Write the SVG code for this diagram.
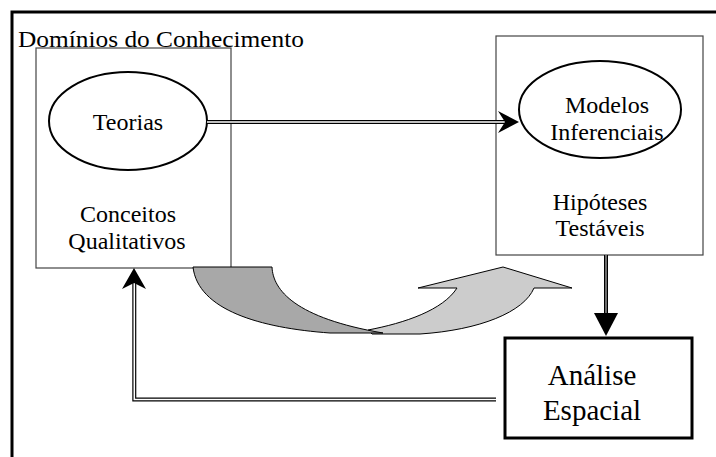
<svg xmlns="http://www.w3.org/2000/svg" width="716" height="457" viewBox="0 0 716 457">
<style>
  text { font-family: "Liberation Serif", "Times New Roman", serif; fill: #000; }
  .lbl { font-size: 24px; text-anchor: middle; }
  .big { font-size: 29px; text-anchor: middle; }
  .box { fill: #fff; stroke: #444; stroke-width: 1.2; }
  .ell { fill: #fff; stroke: #000; stroke-width: 2; }
  .dblo { fill: none; stroke: #000; stroke-width: 4; }
  .dbli { fill: none; stroke: #fff; stroke-width: 1.6; }
  .head { fill: #000; stroke: none; }
</style>
<rect width="716" height="457" fill="#fff"/>
<!-- outer frame -->
<path d="M 12,462 L 12,12 L 720,12" fill="none" stroke="#000" stroke-width="3"/>
<text x="18" y="47" style="font-size:24px" textLength="286" lengthAdjust="spacingAndGlyphs">Domínios  do Conhecimento</text>

<g id="dominio-esquerdo">
  <rect class="box" x="36" y="48" width="195" height="220"/>
  <text class="lbl" x="128" y="222">Conceitos</text>
  <text class="lbl" x="127" y="249">Qualitativos</text>
</g>
<g id="teorias">
  <ellipse class="ell" cx="128" cy="121" rx="79" ry="49"/>
  <text class="lbl" x="128" y="130">Teorias</text>
</g>
<g id="dominio-direito">
  <rect class="box" x="496" y="36" width="207" height="219"/>
  <text class="lbl" x="600" y="210">Hipóteses</text>
  <text class="lbl" x="600" y="236">Testáveis</text>
</g>
<g id="modelos">
  <ellipse class="ell" cx="600" cy="109.5" rx="81" ry="48.5"/>
  <text class="lbl" x="607" y="113">Modelos</text>
  <text class="lbl" x="607" y="140">Inferenciais</text>
</g>
<g id="analise">
  <rect x="505" y="338" width="187" height="100" fill="#fff" stroke="#000" stroke-width="3"/>
  <text class="big" x="592" y="385">Análise</text>
  <text class="big" x="592" y="420">Espacial</text>
</g>

<g id="conectores">
  <!-- Teorias -> Modelos -->
  <path class="dblo" d="M 207,122 L 506,122"/>
  <path class="dbli" d="M 207,122 L 506,122"/>
  <path class="head" d="M 519,122 L 498,111 L 505,122 L 498,133 Z"/>
  <!-- Hipóteses -> Análise -->
  <path class="dblo" d="M 606,255 L 606,315"/>
  <path class="dbli" d="M 606,255 L 606,315" style="stroke:#888"/>
  <path class="head" d="M 594,313 L 618,313 L 606,336 Z"/>
  <!-- Análise -> Conceitos (feedback) -->
  <path class="dblo" d="M 496,399.5 L 134.3,399.5 L 134.3,282"/>
  <path class="dbli" d="M 496,399.5 L 134.3,399.5 L 134.3,282"/>
  <path class="head" d="M 134,268 L 122,289 L 134,283 L 146,289 Z"/>
  <!-- curved ribbon arrow -->
  <path d="M 368,330 C 405,323 443,310 457,288 L 418,288 L 503,267 L 572,288 L 534,288 C 524,312 480,330 420,334 L 372,334 Z" fill="#cccccc" stroke="#000" stroke-width="1"/>
  <path d="M 193,267 L 272,267 C 273,290 295,318 383,333 L 330,333 C 260,328 198,310 193,267 Z" fill="#a8a8a8" stroke="#000" stroke-width="1"/>
</g>
</svg>
